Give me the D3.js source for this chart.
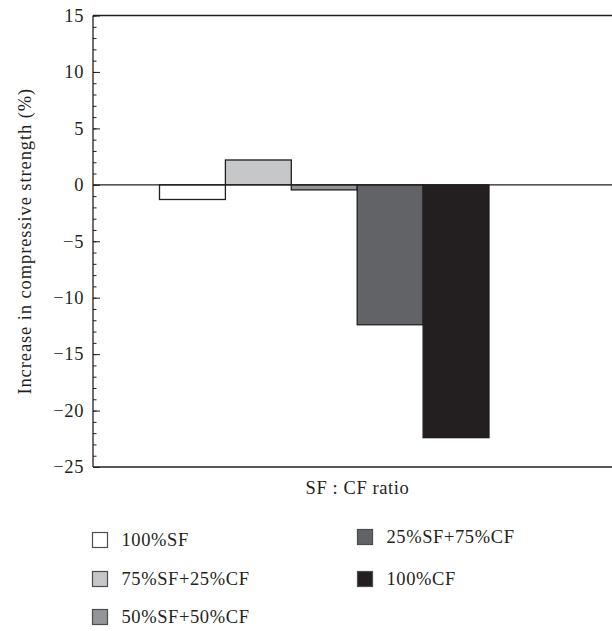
<!DOCTYPE html>
<html>
<head>
<meta charset="utf-8">
<script src="https://cdn.jsdelivr.net/npm/d3@7"></script>
<style>
  body { margin: 0; background: #fff; }
  text { font-family: "Liberation Serif", "DejaVu Serif", serif; fill: #231f20; letter-spacing: 0.6px; }
</style>
</head>
<body>
<div class="graph"></div>
<script>
const categories = ['100%SF', '75%SF+25%CF', '50%SF+50%CF', '25%SF+75%CF', '100%CF'];
const values = [-1.3, 2.2, -0.45, -12.4, -22.4];
const colors = ['#ffffff', '#c6c7c9', '#939598', '#626366', '#231f20'];
const yTicks = [15, 10, 5, 0, -5, -10, -15, -20, -25];

const width = 612, height = 631;
const margin = { top: 15.5, left: 93, bottom: 164 };
const plotRight = 622;
const fs = 18.5;

const svg = d3.select('.graph').append('svg')
  .attr('width', width)
  .attr('height', height);

const y = d3.scaleLinear()
  .domain([-25, 15])
  .range([height - margin.bottom, margin.top]);

const x = d3.scaleBand()
  .domain(categories)
  .range([159.5, 489])
  .paddingInner(0);

// bars
svg.append('g')
  .selectAll('rect')
  .data(values)
  .join('rect')
  .attr('x', (d, i) => x(categories[i]))
  .attr('width', x.bandwidth())
  .attr('y', d => y(Math.max(0, d)))
  .attr('height', d => Math.abs(y(d) - y(0)))
  .attr('fill', (d, i) => colors[i])
  .attr('stroke', '#231f20')
  .attr('stroke-width', 1.3);

// zero line
svg.append('line')
  .attr('x1', margin.left).attr('x2', plotRight)
  .attr('y1', y(0)).attr('y2', y(0))
  .attr('stroke', '#231f20').attr('stroke-width', 1.2);

// frame top / bottom
svg.append('line')
  .attr('x1', margin.left).attr('x2', plotRight)
  .attr('y1', y(15)).attr('y2', y(15))
  .attr('stroke', '#231f20').attr('stroke-width', 1.3);
svg.append('line')
  .attr('x1', margin.left).attr('x2', plotRight)
  .attr('y1', y(-25)).attr('y2', y(-25))
  .attr('stroke', '#231f20').attr('stroke-width', 1.3);

// y axis with minor ticks pointing inward
const yAxis = svg.append('g')
  .attr('transform', `translate(${margin.left},0)`);

yAxis.append('g')
  .call(d3.axisRight(y).tickValues(d3.range(-25, 16, 1)).tickSize(3.5).tickFormat(''))
  .call(g => g.select('.domain').remove());

yAxis.append('g')
  .call(d3.axisRight(y).tickValues(yTicks).tickSize(7).tickFormat(''))
  .call(g => g.select('.domain').remove());

yAxis.selectAll('line').attr('stroke', '#231f20').attr('stroke-width', 1);

yAxis.append('line')
  .attr('y1', y(15)).attr('y2', y(-25))
  .attr('stroke', '#231f20').attr('stroke-width', 1.3);

yAxis.selectAll('.lbl')
  .data(yTicks)
  .join('text')
  .attr('class', 'lbl')
  .attr('x', -9)
  .attr('y', d => y(d))
  .attr('dy', '0.34em')
  .attr('text-anchor', 'end')
  .attr('font-size', fs)
  .text(d => d < 0 ? '\u2212' + Math.abs(d) : d);

// axis titles
svg.append('text')
  .attr('transform', `translate(31,${(y(15) + y(-25)) / 2}) rotate(-90)`)
  .attr('text-anchor', 'middle')
  .attr('font-size', fs)
  .style('letter-spacing', '0.9px')
  .text('Increase in compressive strength (%)');

svg.append('text')
  .attr('x', 357.5)
  .attr('y', 494)
  .attr('text-anchor', 'middle')
  .attr('font-size', fs)
  .text('SF : CF ratio');

// legend
const legendPos = [
  { x: 92.5, y: 540 }, { x: 92.5, y: 579 }, { x: 92.5, y: 617 },
  { x: 357.5, y: 537 }, { x: 357.5, y: 579 }
];

const legend = svg.append('g')
  .selectAll('g')
  .data(categories)
  .join('g')
  .attr('transform', (d, i) => `translate(${legendPos[i].x},${legendPos[i].y})`);

legend.append('rect')
  .attr('x', 0).attr('y', -7.5)
  .attr('width', 15).attr('height', 15)
  .attr('fill', (d, i) => colors[i])
  .attr('stroke', '#4d4d4f')
  .attr('stroke-width', 1.2);

legend.append('text')
  .attr('x', 29)
  .attr('y', 0)
  .attr('dy', '0.34em')
  .attr('font-size', fs)
  .text(d => d);
</script>
</body>
</html>
